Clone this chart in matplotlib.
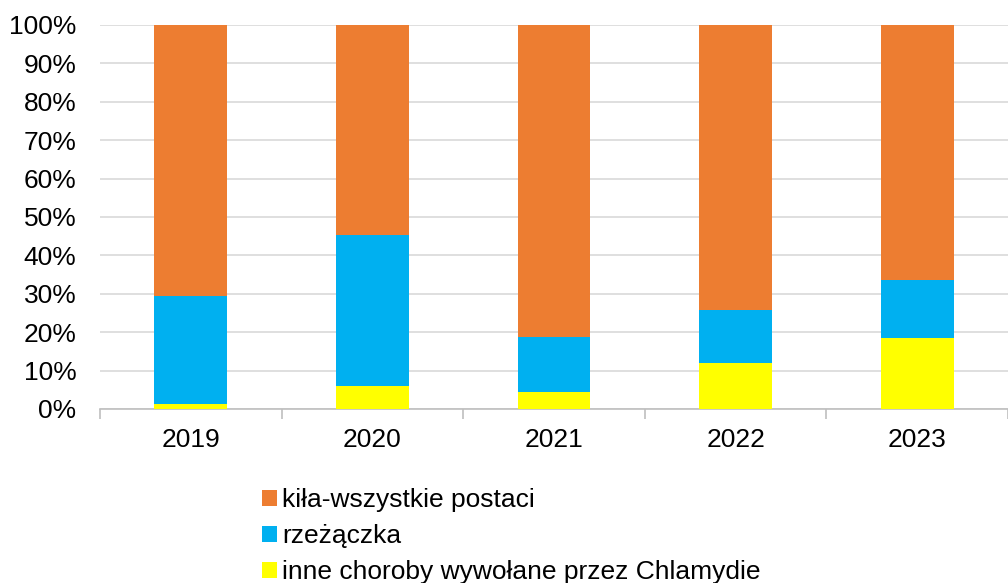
import numpy as np
import matplotlib.pyplot as plt

plt.rcParams['font.family'] = ['Liberation Sans', 'DejaVu Sans']

years = ["2019", "2020", "2021", "2022", "2023"]
chlamydie = [1.3, 6.0, 4.4, 12.0, 18.6]
rzezaczka = [28.2, 39.3, 14.35, 13.8, 15.0]
kila = [100 - a - b for a, b in zip(chlamydie, rzezaczka)]

names = ["kiła-wszystkie postaci", "rzeżączka", "inne choroby wywołane przez Chlamydie"]
colors = ["#ED7D31", "#00B0F0", "#FFFF00"]

fig = plt.figure(figsize=(10.08, 5.83), dpi=100)
ax = fig.add_axes([100 / 1008, 1 - 409 / 583, 908 / 1008, 384 / 583])

x = np.arange(len(years))
w = 0.4
ax.bar(x, chlamydie, w, color=colors[2], label=names[2], zorder=3)
ax.bar(x, rzezaczka, w, bottom=chlamydie, color=colors[1], label=names[1], zorder=3)
bottom2 = [a + b for a, b in zip(chlamydie, rzezaczka)]
ax.bar(x, kila, w, bottom=bottom2, color=colors[0], label=names[0], zorder=3)

ax.set_ylim(0, 100)
ax.set_xlim(-0.5, 4.40)
ax.set_yticks(range(0, 101, 10))
ax.set_yticklabels([f"{v}%" for v in range(0, 101, 10)], fontsize=19)
ax.yaxis.grid(True, color="#D9D9D9", linewidth=1.2, zorder=0)
ax.tick_params(axis='y', length=0, pad=17)

ax.set_xticks(x)
ax.set_xticklabels(years, fontsize=19)
ax.tick_params(axis='x', length=0, pad=14)
ax.set_xticks(np.arange(-0.5, 5, 1), minor=True)
ax.tick_params(axis='x', which='minor', length=7, color="#BFBFBF", width=1.2)

for s in ["left", "right", "top"]:
    ax.spines[s].set_visible(False)
ax.spines["bottom"].set_color("#BFBFBF")
ax.spines["bottom"].set_linewidth(1.2)

handles, labels = ax.get_legend_handles_labels()
fig.legend(handles[::-1], labels[::-1], loc="upper left",
           bbox_to_anchor=(249 / 1008, 1 - 475 / 583), frameon=False,
           fontsize=19, handlelength=0.55, handleheight=0.55,
           handletextpad=0.2, labelspacing=0.46, borderpad=0)

fig.savefig("out.png", dpi=100)
